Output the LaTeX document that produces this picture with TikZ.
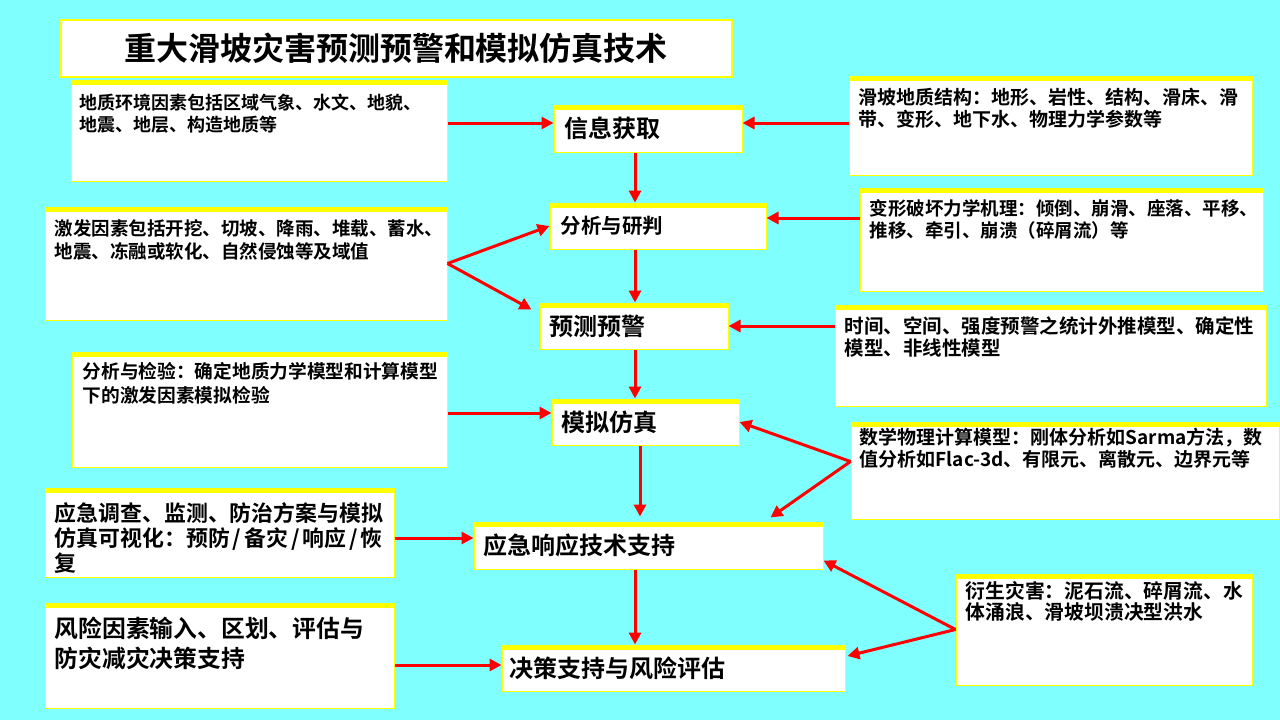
\documentclass[tikz,border=0pt]{standalone}
\usepackage{fontspec}
\setmainfont{Noto Sans CJK SC}[BoldFont=* Bold]
\usetikzlibrary{arrows.meta}
\definecolor{skycyan}{HTML}{80FFFF}
\definecolor{boxyellow}{HTML}{FFFF00}
\definecolor{flowred}{HTML}{FF0000}
\newcommand{\fsz}[2]{\fontsize{#1}{#2}\selectfont\bfseries}
\newcommand{\slsh}{\makebox[0.66em]{/}}

\begin{document}
\begin{tikzpicture}[
  x=1pt, y=-1pt,
  box/.style 2 args={draw=boxyellow, line width=1pt, fill=white,
    minimum width=#1pt, minimum height=#2pt, inner sep=0pt,
    path picture={\fill[boxyellow] (path picture bounding box.north west)
      rectangle ([yshift=-4.5pt]path picture bounding box.north east);}},
  note/.style={anchor=north west, inner sep=0pt, align=left},
  tag/.style={anchor=west, inner sep=0pt, font={\fsz{24}{28}}},
  flow/.style={draw=flowred, line width=3pt,
    -{Triangle[length=12pt, width=12pt]}}
]
  % Background
  \fill[skycyan] (0,0) rectangle (1280,720);
  \useasboundingbox (0,0) rectangle (1280,720);

  % Title
  \node[draw=boxyellow, line width=2pt, fill=white, minimum width=671pt,
    minimum height=57pt, font={\fsz{32}{36}}] (title) at (396,48.5)
    {重大滑坡灾害预测预警和模拟仿真技术};

  % Main chain
  \node[box={188}{47}] (xinxi)  at (648,128.5) {};
  \node[box={216}{46}] (fenxi)  at (658,226)   {};
  \node[box={188}{46}] (yuce)   at (634,326)   {};
  \node[box={187}{46}] (moni)   at (645.5,422) {};
  \node[box={349}{47}] (yingji) at (648.5,545.5) {};
  \node[box={343}{46}] (juece)  at (673.5,668) {};
  \node[tag] (xinxitxt)  at ([xshift=11pt]xinxi.west)  {信息获取};
  \node[tag, font={\fsz{20.5}{24}}] (fenxitxt) at ([xshift=11pt]fenxi.west) {分析与研判};
  \node[tag] (yucetxt)   at ([xshift=10pt]yuce.west)   {预测预警};
  \node[tag] (monitxt)   at ([xshift=10pt]moni.west)   {模拟仿真};
  \node[tag] (yingjitxt) at ([xshift=10pt]yingji.west) {应急响应技术支持};
  \node[tag] (juecetxt)  at ([xshift=8pt]juece.west)   {决策支持与风险评估};

  % Left inputs
  \node[box={376}{101}] (geo)      at (259,130.5)   {};
  \node[box={402}{113}] (jifa)     at (246,263.5)   {};
  \node[box={375}{115}] (jianyan)  at (259.5,409.5) {};
  \node[box={349}{89}]  (diaocha)  at (219.5,532.5) {};
  \node[box={349}{105}] (fengxian) at (219.5,655.5) {};
  \node[note, font={\fsz{18}{22}}] (geotxt) at ([shift={(9,14)}]geo.north west)
    {地质环境因素包括区域气象、水文、地貌、\\地震、地层、构造地质等};
  \node[note, font={\fsz{18.5}{23}}] (jifatxt) at ([shift={(10,13)}]jifa.north west)
    {激发因素包括开挖、切坡、降雨、堆载、蓄水、\\地震、冻融或软化、自然侵蚀等及域值};
  \node[note, font={\fsz{18.7}{24}}] (jianyantxt) at ([shift={(11,11)}]jianyan.north west)
    {分析与检验：确定地质力学模型和计算模型\\下的激发因素模拟检验};
  \node[note, font={\fsz{21.9}{25}}] (diaochatxt) at ([shift={(10,15)}]diaocha.north west)
    {应急调查、监测、防治方案与模拟\\仿真可视化：预防\slsh 备灾\slsh 响应\slsh 恢\\复};
  \node[note, font={\fsz{23.8}{30}}] (fengxiantxt) at ([shift={(10,14)}]fengxian.north west)
    {风险因素输入、区划、评估与\\防灾减灾决策支持};

  % Right inputs
  \node[box={403}{99}]  (jiegou)   at (1050.5,125.5) {};
  \node[box={403}{103}] (jili)     at (1061.5,239.5) {};
  \node[box={431}{101}] (moxing)   at (1050.5,355.5) {};
  \node[box={428}{97}]  (shuxue)   at (1065,470.5)   {};
  \node[box={296}{111}] (yansheng) at (1104,629.5)   {};
  \node[note, font={\fsz{19}{22}}] (jiegoutxt) at ([shift={(10,12)}]jiegou.north west)
    {滑坡地质结构：地形、岩性、结构、滑床、滑\\带、变形、地下水、物理力学参数等};
  \node[note, font={\fsz{18.5}{22}}] (jilitxt) at ([shift={(10,12)}]jili.north west)
    {变形破坏力学机理：倾倒、崩滑、座落、平移、\\推移、牵引、崩溃（碎屑流）等};
  \node[note, font={\fsz{19.5}{22}}] (moxingtxt) at ([shift={(10,12)}]moxing.north west)
    {时间、空间、强度预警之统计外推模型、确定性\\模型、非线性模型};
  \node[note, font={\fsz{19}{22}}] (shuxuetxt) at ([shift={(9,6)}]shuxue.north west)
    {数学物理计算模型：刚体分析如Sarma方法，数\\值分析如Flac-3d、有限元、离散元、边界元等};
  \node[note, font={\fsz{19.8}{21}}] (yanshengtxt) at ([shift={(10,8)}]yansheng.north west)
    {衍生灾害：泥石流、碎屑流、水\\体涌浪、滑坡坝溃决型洪水};

  % Vertical flow
  \coordinate (axis)  at (635,0);
  \coordinate (axisb) at (640,0);
  \foreach \a/\b in {xinxi/fenxi, fenxi/yuce, yuce/moni, yingji/juece}
    \draw[flow] (\a.south -| axis) -- (\b.north -| axis);
  \draw[flow, shorten >=5pt] (moni.south -| axisb) -- (yingji.north -| axisb);

  % Side feeds
  \draw[flow] ([yshift=7.5pt]geo.east) -- ([yshift=5.5pt]xinxi.west);
  \draw[flow] ([yshift=2.5pt]jiegou.west) -- ([yshift=5.5pt]xinxi.east);
  \draw[flow] ([yshift=21.5pt]jili.west) -- ([yshift=8pt]fenxi.east);
  \draw[flow] ([yshift=29.5pt]moxing.west) -- (yuce.east);
  \draw[flow] ([yshift=-3.5pt]jianyan.east) -- ([yshift=9pt]moni.west);
  \draw[flow] ([yshift=-5.5pt]diaocha.east) -- ([yshift=7.5pt]yingji.west);
  \draw[flow] ([yshift=-9.5pt]fengxian.east) -- ([yshift=3pt]juece.west);

  % Split feeds
  \draw[flow] (jifa.east) -- (fenxi.west);
  \draw[flow] (jifa.east) -- ([shift={(-8,7)}]yuce.north west);
  \draw[flow] ([yshift=9pt]shuxue.west) -- (moni.east);
  \draw[flow] ([yshift=9pt]shuxue.west) -- ([shift={(-53,-4)}]yingji.north east);
  \draw[flow] (yansheng.west) -- ([yshift=9pt]yingji.south east);
  \draw[flow] (yansheng.west) -- ([shift={(2,-12)}]juece.east);
\end{tikzpicture}
\end{document}
